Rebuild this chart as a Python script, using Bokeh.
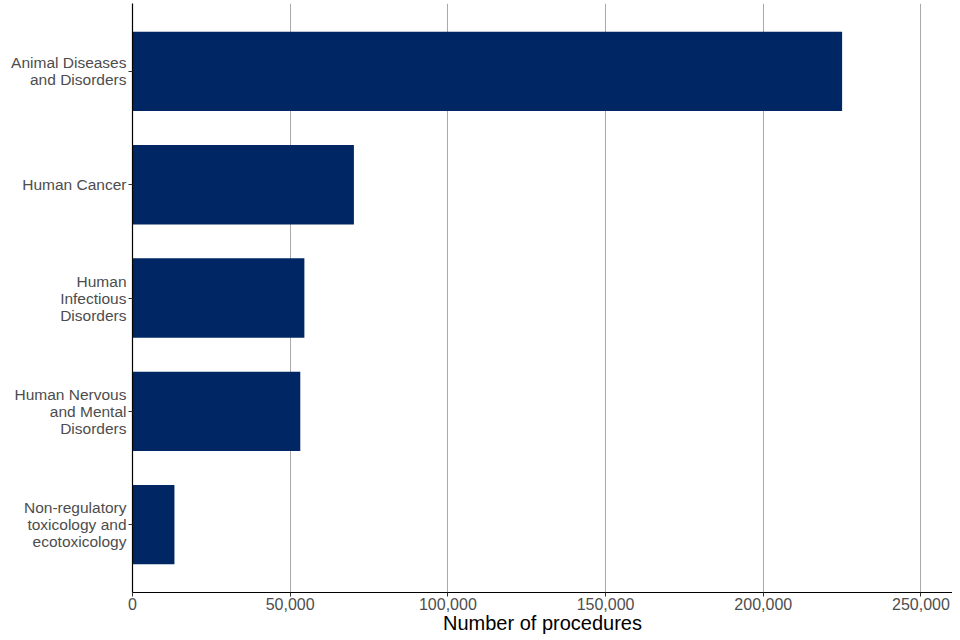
from bokeh.plotting import figure
from bokeh.models import Range1d, NumeralTickFormatter, FixedTicker
from bokeh.embed import file_html
from bokeh.resources import INLINE

categories = [
    "Animal Diseases\nand Disorders",
    "Human Cancer",
    "Human\nInfectious\nDisorders",
    "Human Nervous\nand Mental\nDisorders",
    "Non-regulatory\ntoxicology and\necotoxicology",
]
procedures = [225000, 70200, 54500, 53200, 13300]
x_ticks = [0, 50000, 100000, 150000, 200000, 250000]

n = len(categories)
y_pos = [n - i for i in range(n)]  # first category at the top

p = figure(
    y_range=Range1d(0.4, n + 0.6),
    x_range=Range1d(0, 260000),
    width=952, height=636,
    output_backend="svg", toolbar_location=None,
    min_border_left=132, min_border_right=0, min_border_top=3, min_border_bottom=44,
)
p.hbar(y=y_pos, right=procedures, left=0, height=0.7, color="#002663", line_color=None)

p.outline_line_color = None
p.background_fill_color = "white"

p.xaxis.ticker = FixedTicker(ticks=x_ticks)
p.xaxis.formatter = NumeralTickFormatter(format="0,0")
p.xaxis.axis_label = "Number of procedures"
p.xaxis.axis_label_text_font = "Liberation Sans"
p.xaxis.axis_label_text_font_style = "normal"
p.xaxis.axis_label_text_font_size = "20px"
p.xaxis.axis_label_text_color = "black"
p.xaxis.axis_label_standoff = -1

p.yaxis.ticker = FixedTicker(ticks=y_pos)
p.yaxis.major_label_overrides = {y: c for y, c in zip(y_pos, categories)}

for ax in (p.xaxis, p.yaxis):
    ax.major_label_text_font = "Liberation Sans"
    ax.major_label_text_color = "#4d4d4d"
    ax.axis_line_color = "black"
    ax.axis_line_width = 1.2
    ax.major_tick_line_color = "#333333"
    ax.major_tick_out = 4
    ax.major_tick_in = 0
    ax.minor_tick_line_color = None
    ax.major_label_standoff = 2

p.xaxis.major_label_standoff = 1
p.xaxis.major_label_text_font_size = "16px"
p.yaxis.major_label_text_font_size = "15.5px"
p.yaxis.major_label_text_line_height = 1.0

p.xgrid.grid_line_color = "#aaaaaa"
p.xgrid.grid_line_width = 1
p.ygrid.grid_line_color = None

open("out.html", "w").write(file_html(p, INLINE))
